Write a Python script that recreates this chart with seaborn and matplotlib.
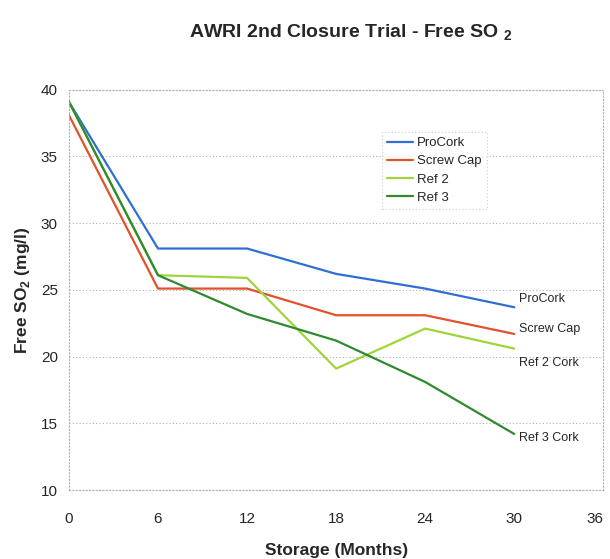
import numpy as np
import pandas as pd
import matplotlib
matplotlib.use("Agg")
import matplotlib.pyplot as plt
import seaborn as sns

# Data
months = [0, 6, 12, 18, 24, 30]
procork = [39.1, 28.1, 28.1, 26.2, 25.1, 23.7]
screw_cap = [38.1, 25.1, 25.1, 23.1, 23.1, 21.7]
ref2 = [39.1, 26.1, 25.9, 19.1, 22.1, 20.6]
ref3 = [39.1, 26.1, 23.2, 21.2, 18.1, 14.2]

series_names = ["ProCork", "Screw Cap", "Ref 2", "Ref 3"]
end_labels = ["ProCork", "Screw Cap", "Ref 2 Cork", "Ref 3 Cork"]
end_label_y = [24.3, 22.1, 19.5, 13.9]
colors = ["#2f6fd2", "#e2512b", "#9fd43a", "#2f8a2f"]

x_ticks = [0, 6, 12, 18, 24, 30, 36]
y_ticks = [10, 15, 20, 25, 30, 35, 40]

df = pd.DataFrame({
    "Month": months * 4,
    "SO2": procork + screw_cap + ref2 + ref3,
    "Closure": sum([[n] * len(months) for n in series_names], []),
})

sns.set_style("white")
plt.rcParams["font.family"] = ["Liberation Sans", "DejaVu Sans"]
plt.rcParams["mathtext.fontset"] = "custom"
plt.rcParams["mathtext.rm"] = "Liberation Sans"
plt.rcParams["mathtext.bf"] = "Liberation Sans:bold"

fig = plt.figure(figsize=(6.1, 5.59), dpi=100)
ax = fig.add_axes([0.113, 0.1234, 0.876, 0.716])

sns.lineplot(data=df, x="Month", y="SO2", hue="Closure",
             palette=dict(zip(series_names, colors)), linewidth=1.6, ax=ax)

ax.set_xlim(0, 36)
ax.set_ylim(10, 40)
ax.set_xticks(x_ticks)
ax.set_yticks(y_ticks)
ax.tick_params(axis="both", length=0, labelsize=11)
ax.tick_params(axis="x", pad=16)
ax.tick_params(axis="y", pad=8)
for t in ax.get_xticklabels():
    if t.get_text() == "36":
        t.set_ha("right")
ax.yaxis.grid(True, linestyle=(0, (1, 2)), color="#b0b0b0", linewidth=0.8)
for s in ax.spines.values():
    s.set_linestyle((0, (1, 2)))
    s.set_color("#b0b0b0")
    s.set_linewidth(0.8)

for lab, yv in zip(end_labels, end_label_y):
    ax.text(30.3, yv, lab, fontsize=9, va="center", ha="left")

ax.set_xlabel("Storage (Months)", fontsize=12.5, fontweight="bold", labelpad=12)
ax.set_ylabel(r"Free SO$_\mathbf{2}$ (mg/l)", fontsize=12.5, fontweight="bold",
              labelpad=6)

leg = ax.legend(loc="upper left", bbox_to_anchor=(0.585, 0.895), fontsize=9.5,
                handlelength=2.0, handletextpad=0.3, labelspacing=0.45,
                borderpad=0.4, fancybox=False, frameon=True, borderaxespad=0)
leg.get_frame().set_edgecolor("#c0c0c0")
leg.get_frame().set_linestyle((0, (1, 2)))
leg.get_frame().set_linewidth(0.8)

fig.text(0.575, 0.942, "AWRI 2nd Closure Trial - Free SO $_\\mathbf{2}$", fontsize=14,
         fontweight="bold", ha="center", va="center")

fig.savefig("out.png", dpi=100)
